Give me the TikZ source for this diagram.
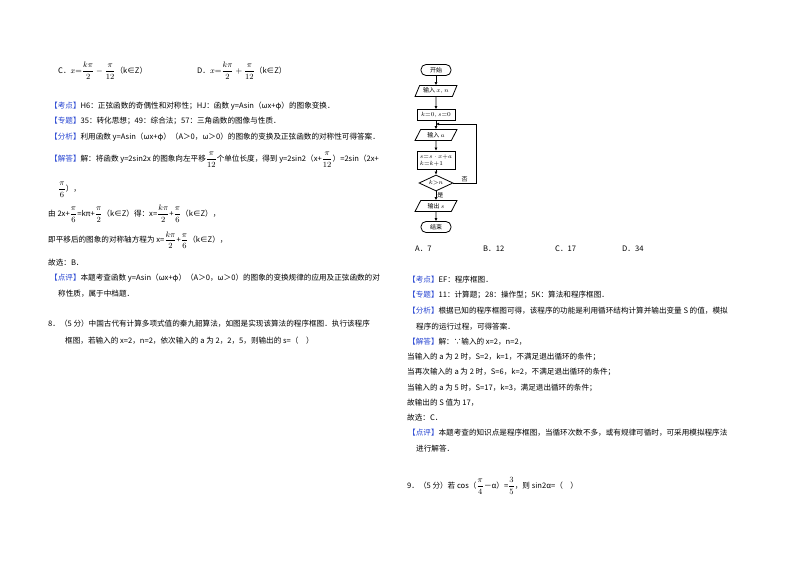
\documentclass[tikz,border=0pt]{standalone}
\usepackage{amsmath}
\usepackage{fontspec}
\setmainfont{Noto Sans CJK SC}
\usetikzlibrary{shapes.geometric,arrows.meta}
\definecolor{lblue}{RGB}{40,70,210}
\newcommand{\lb}[1]{\textcolor{lblue}{【#1】}}
\tikzset{
 txt/.style={anchor=west,inner sep=0pt,font=\fontsize{7.6}{9}\selectfont},
 fc/.style={draw,thick,font=\fontsize{6}{7}\selectfont,inner sep=1pt,minimum height=11pt},
 term/.style={fc,rounded corners=5pt,minimum width=30pt},
 io/.style={fc,trapezium,trapezium left angle=65,trapezium right angle=115,minimum width=42pt,trapezium stretches=true},
 proc/.style={fc,rectangle,minimum width=38pt},
 dec/.style={fc,diamond,aspect=2.6,inner sep=0pt,minimum width=34pt,minimum height=16pt},
 ar/.style={-{Latex[length=3pt,width=3pt]},thick}
}
\begin{document}
\begin{tikzpicture}[x=1pt,y=-1pt]
\useasboundingbox[fill=white] (0,0) rectangle (800,565);
% left column
\node[txt] (c) at (58,71) {C．$x{=}\dfrac{k\pi}{2}-\dfrac{\pi}{12}$（k∈Z）};
\node[txt] (d) at (197,71) {D．$x{=}\dfrac{k\pi}{2}+\dfrac{\pi}{12}$（k∈Z）};
\node[txt] (l1) at (50,106) {\lb{考点}H6：正弦函数的奇偶性和对称性；HJ：函数 y=Asin（ωx+φ）的图象变换．};
\node[txt] (l2) at (50,121) {\lb{专题}35：转化思想；49：综合法；57：三角函数的图像与性质．};
\node[txt] (l3) at (50,137) {\lb{分析}利用函数 y=Asin（ωx+φ）（A＞0，ω＞0）的图象的变换及正弦函数的对称性可得答案．};
\node[txt] (l4) at (50,160) {\lb{解答}解：将函数 y=2sin2x 的图象向左平移$\dfrac{\pi}{12}$个单位长度，得到 y=2sin2（x+$\dfrac{\pi}{12}$）=2sin（2x+};
\node[txt] (l5) at (58,190) {$\dfrac{\pi}{6}$），};
\node[txt] (l6) at (48,214) {由 2x+$\dfrac{\pi}{6}$=kπ+$\dfrac{\pi}{2}$（k∈Z）得：x=$\dfrac{k\pi}{2}$+$\dfrac{\pi}{6}$（k∈Z），};
\node[txt] (l7) at (48,240) {即平移后的图象的对称轴方程为 x=$\dfrac{k\pi}{2}$+$\dfrac{\pi}{6}$（k∈Z），};
\node[txt] (l8) at (48,263) {故选：B．};
\node[txt] (l9) at (50,278) {\lb{点评}本题考查函数 y=Asin（ωx+φ）（A＞0，ω＞0）的图象的变换规律的应用及正弦函数的对};
\node[txt] (l10) at (58,294) {称性质，属于中档题．};
\node[txt] (l11) at (48,324) {8．（5 分）中国古代有计算多项式值的秦九韶算法，如图是实现该算法的程序框图．执行该程序};
\node[txt] (l12) at (65,341) {框图，若输入的 x=2，n=2，依次输入的 a 为 2，2，5，则输出的 s=（\quad ）};
% right column
\node[txt] (ra) at (415,249) {A．7};
\node[txt] (rb) at (483,249) {B．12};
\node[txt] (rc) at (555,249) {C．17};
\node[txt] (rd) at (622,249) {D．34};
\node[txt] (r1) at (408,280) {\lb{考点}EF：程序框图．};
\node[txt] (r2) at (408,295) {\lb{专题}11：计算题；28：操作型；5K：算法和程序框图．};
\node[txt] (r3) at (408,311) {\lb{分析}根据已知的程序框图可得，该程序的功能是利用循环结构计算并输出变量 S 的值，模拟};
\node[txt] (r4) at (416,327) {程序的运行过程，可得答案．};
\node[txt] (r5) at (408,342) {\lb{解答}解：∵输入的 x=2，n=2，};
\node[txt] (r6) at (407,357) {当输入的 a 为 2 时，S=2，k=1，不满足退出循环的条件；};
\node[txt] (r7) at (407,372) {当再次输入的 a 为 2 时，S=6，k=2，不满足退出循环的条件；};
\node[txt] (r8) at (407,388) {当输入的 a 为 5 时，S=17，k=3，满足退出循环的条件；};
\node[txt] (r9) at (407,403) {故输出的 S 值为 17，};
\node[txt] (r10) at (407,418) {故选：C．};
\node[txt] (r11) at (408,433) {\lb{点评}本题考查的知识点是程序框图，当循环次数不多，或有规律可循时，可采用模拟程序法};
\node[txt] (r12) at (416,449) {进行解答．};
\node[txt] (r13) at (407,486) {9．（5 分）若 cos（$\dfrac{\pi}{4}$－α）=$\dfrac{3}{5}$，则 sin2α=（\quad ）};
% flowchart
\node[term] (st) at (436,70) {开始};
\node[io] (in1) at (436,91) {输入 $x,n$};
\node[proc] (p1) at (436,115) {$k{=}0,s{=}0$};
\node[io] (in2) at (436,135) {输入 $a$};
\node[proc,minimum height=18pt,align=left] (p2) at (436,160) {$s{=}s\cdot x{+}a$\\$k{=}k{+}1$};
\node[dec] (dc) at (436,183) {$k{>}n$};
\node[io] (out) at (436,206) {输出 $s$};
\node[term] (en) at (436,227) {结束};
\coordinate (j) at (436,124);
\coordinate (rr) at (476,183);
\coordinate (rt) at (476,124);
\draw[ar] (st) -- (in1);
\draw[ar] (in1) -- (p1);
\draw[ar] (p1) -- (in2);
\draw[ar] (in2) -- (p2);
\draw[ar] (p2) -- (dc);
\draw[ar] (dc) -- node[right,font=\fontsize{6}{7}\selectfont,inner sep=1pt] (yes) {是} (out);
\draw[ar] (out) -- (en);
\draw[thick] (dc.east) -- node[above,font=\fontsize{6}{7}\selectfont,inner sep=1pt] (no) {否} (rr) -- (rt);
\draw[ar] (rt) -- (j);
\end{tikzpicture}
\end{document}
